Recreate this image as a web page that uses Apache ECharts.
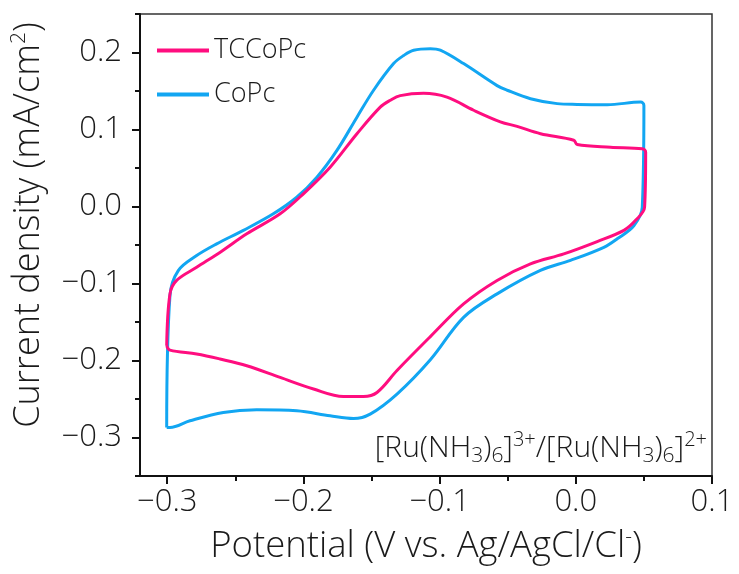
<!DOCTYPE html>
<html><head><meta charset="utf-8">
<script src="https://cdn.jsdelivr.net/npm/echarts@6/dist/echarts.min.js"></script>
<style>html,body{margin:0;padding:0;background:#fff}#c{width:739px;height:574px}</style>
</head><body><div id="c"></div>
<script>
const seriesNames = ['TCCoPc', 'CoPc'];
const tccopcPotential = [-0.3004,-0.298,-0.2931,-0.2784,-0.26,-0.2416,-0.2171,-0.2,-0.1804,-0.1607,-0.1436,-0.1362,-0.1289,-0.1118,-0.0946,-0.075,-0.0554,-0.0431,-0.0259,-0.0015,0.001,0.0255,0.0488,0.0513,0.0505,0.0439,0.0353,0.0157,-0.0088,-0.0333,-0.0578,-0.0824,-0.1068,-0.1313,-0.146,-0.1559,-0.1706,-0.1926,-0.2171,-0.2416,-0.2613,-0.2784,-0.298,-0.3004];
const tccopcCurrent = [-0.181,-0.1135,-0.096,-0.079,-0.058,-0.0355,-0.0095,0.0165,0.051,0.0945,0.129,0.138,0.144,0.147,0.142,0.125,0.110,0.104,0.0945,0.086,0.0806,0.077,0.075,0.0706,-0.001,-0.018,-0.031,-0.0455,-0.0615,-0.0745,-0.096,-0.1265,-0.169,-0.213,-0.2415,-0.2467,-0.2467,-0.237,-0.222,-0.2068,-0.198,-0.1915,-0.1865,-0.181];
const copcPotential = [-0.3004,-0.298,-0.2919,-0.2784,-0.2637,-0.2441,-0.2221,-0.2049,-0.1901,-0.1754,-0.1607,-0.1485,-0.1338,-0.1265,-0.1191,-0.1068,-0.0995,-0.0824,-0.0578,-0.0504,-0.0333,-0.0137,0.001,0.0231,0.0476,0.0500,0.0488,0.0426,0.0304,0.0206,-0.0039,-0.026,-0.0578,-0.0824,-0.1068,-0.1313,-0.151,-0.1632,-0.1804,-0.2049,-0.2343,-0.2588,-0.2833,-0.298,-0.3004];
const copcCurrent = [-0.287,-0.1157,-0.0832,-0.0637,-0.0485,-0.031,-0.0095,0.012,0.038,0.0728,0.116,0.151,0.1856,0.196,0.203,0.205,0.203,0.1856,0.157,0.151,0.140,0.1336,0.1326,0.1322,0.1356,0.1313,-0.001,-0.025,-0.042,-0.053,-0.070,-0.083,-0.1135,-0.144,-0.199,-0.2436,-0.2696,-0.2753,-0.2718,-0.2653,-0.264,-0.2675,-0.2783,-0.287,-0.287];
const xTickLabels = [-0.3, -0.2, -0.1, 0.0, 0.1];
const xMinorTicks = [-0.25, -0.15, -0.05, 0.05];
const yTickLabels = [-0.3, -0.2, -0.1, 0.0, 0.1, 0.2];
const yMinorTicks = [-0.35, -0.25, -0.15, -0.05, 0.05, 0.15, 0.25];
const annotation = '[Ru(NH{sub|3}){sub|6}]{sup|3+}/[Ru(NH{sub|3}){sub|6}]{sup|2+}';

const FONT = '"Open Sans", "DejaVu Sans", sans-serif';
const fmt = v => (v < -1e-9 ? '\u2212' : '') + Math.abs(v).toFixed(1);
const zip = (a, b) => a.map((v, i) => [v, b[i]]);
const colors = ['#ff0d7f', '#12a6f2'];
const TXT = '#1a1a1a';

const chart = echarts.init(document.getElementById('c'), null, {renderer: 'canvas'});
const axisLineStyle = {color: '#111', width: 2};
chart.setOption({
  animation: false,
  backgroundColor: '#fff',
  grid: {left: 140, right: 27, top: 14, bottom: 98, show: true, borderColor: '#333', borderWidth: 1.5, containLabel: false},
  legend: {
    orient: 'vertical', left: 157, top: 37, itemWidth: 52, itemHeight: 4, itemGap: 17, icon: 'rect', padding: 0,
    data: seriesNames,
    textStyle: {fontSize: 27, color: TXT, fontFamily: FONT, fontWeight: 300}
  },
  title: {
    text: annotation, right: 32, top: 430, padding: 0,
    textStyle: {
      fontSize: 30, color: TXT, fontFamily: FONT, fontWeight: 300,
      rich: {
        sub: {fontSize: 21, color: TXT, fontFamily: FONT, fontWeight: 300, padding: [15, 0, 0, 0]},
        sup: {fontSize: 20, color: TXT, fontFamily: FONT, fontWeight: 300, padding: [0, 0, 17, 0]}
      }
    }
  },
  xAxis: [{
    type: 'value', min: -0.32, max: 0.1, position: 'bottom',
    axisLine: {show: true, onZero: false, lineStyle: axisLineStyle},
    axisTick: {show: true, customValues: xTickLabels, length: 8, lineStyle: axisLineStyle},
    axisLabel: {customValues: xTickLabels, formatter: fmt, fontSize: 31, color: TXT, fontFamily: FONT, fontWeight: 300, margin: 11},
    splitLine: {show: false},
    name: 'Potential (V vs. Ag/AgCl/Cl{sup|-})', nameLocation: 'middle', nameGap: 51,
    nameTextStyle: {fontSize: 36.5, color: TXT, fontFamily: FONT, fontWeight: 300,
      rich: {sup: {fontSize: 21, color: TXT, fontFamily: FONT, fontWeight: 300, padding: [0, 0, 18, 0]}}}
  }, {
    type: 'value', min: -0.32, max: 0.1, position: 'bottom',
    axisLine: {show: false, onZero: false},
    axisTick: {show: true, customValues: xMinorTicks, length: 5, lineStyle: axisLineStyle},
    axisLabel: {show: false}, splitLine: {show: false}
  }],
  yAxis: [{
    type: 'value', min: -0.35, max: 0.25, position: 'left',
    axisLine: {show: true, onZero: false, lineStyle: axisLineStyle},
    axisTick: {show: true, customValues: yTickLabels, length: 8, lineStyle: axisLineStyle},
    axisLabel: {customValues: yTickLabels, formatter: fmt, fontSize: 31, color: TXT, fontFamily: FONT, fontWeight: 300, margin: 18},
    splitLine: {show: false},
    name: 'Current density (mA/cm{sup|2})', nameLocation: 'middle', nameGap: 92, nameRotate: 90,
    nameTextStyle: {fontSize: 36, color: TXT, fontFamily: FONT, fontWeight: 300, padding: [0, 0, 0, 40],
      rich: {sup: {fontSize: 21, color: TXT, fontFamily: FONT, fontWeight: 300, padding: [0, 0, 18, 0]}}}
  }, {
    type: 'value', min: -0.35, max: 0.25, position: 'left',
    axisLine: {show: false, onZero: false},
    axisTick: {show: true, customValues: yMinorTicks, length: 5, lineStyle: axisLineStyle},
    axisLabel: {show: false}, splitLine: {show: false}
  }],
  series: [{
    name: seriesNames[0], type: 'line', xAxisIndex: 0, yAxisIndex: 0,
    data: zip(tccopcPotential, tccopcCurrent), showSymbol: false, symbol: 'none', smooth: 0.35,
    lineStyle: {color: colors[0], width: 3}, itemStyle: {color: colors[0]}, z: 3
  }, {
    name: seriesNames[1], type: 'line', xAxisIndex: 0, yAxisIndex: 0,
    data: zip(copcPotential, copcCurrent), showSymbol: false, symbol: 'none', smooth: 0.35,
    lineStyle: {color: colors[1], width: 3}, itemStyle: {color: colors[1]}, z: 2
  }]
});
</script></body></html>
